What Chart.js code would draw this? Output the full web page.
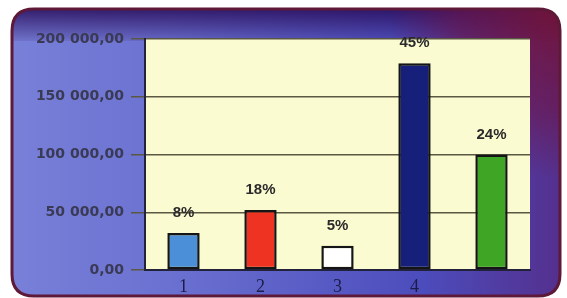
<!DOCTYPE html>
<html>
<head>
<meta charset="utf-8">
<script src="https://cdn.jsdelivr.net/npm/chart.js@4"></script>
<style>
  html, body { margin: 0; padding: 0; background: #fff; }
  #wrap { width: 567px; height: 298px; }
</style>
</head>
<body>
<div id="wrap"><canvas id="chart" width="567" height="298"></canvas></div>
<script>
// Data (the fifth category label is not visible in the source)
const categories = ['1', '2', '3', '4', ''];
const values = [32000, 52000, 21000, 179000, 100000];
const percentLabels = ['8%', '18%', '5%', '45%', '24%'];
const barColors = ['#4a8fd8', '#ee3322', '#ffffff', '#16207a', '#3ea624'];
const yTicks = [0, 50000, 100000, 150000, 200000];

function formatValue(v) {
    const s = Math.round(v).toString().replace(/\B(?=(\d{3})+(?!\d))/g, ' ');
    return s + ',00';
}

function roundRect(ctx, x, y, w, h, r) {
    ctx.beginPath();
    ctx.moveTo(x + r, y);
    ctx.lineTo(x + w - r, y);
    ctx.quadraticCurveTo(x + w, y, x + w, y + r);
    ctx.lineTo(x + w, y + h - r);
    ctx.quadraticCurveTo(x + w, y + h, x + w - r, y + h);
    ctx.lineTo(x + r, y + h);
    ctx.quadraticCurveTo(x, y + h, x, y + h - r);
    ctx.lineTo(x, y + r);
    ctx.quadraticCurveTo(x, y, x + r, y);
    ctx.closePath();
}

// Panel background + yellow plot area
const panelPlugin = {
    id: 'panel',
    beforeDraw(chart) {
        const ctx = chart.ctx;
        const a = chart.chartArea;
        ctx.save();
        ctx.fillStyle = '#ffffff';
        ctx.fillRect(0, 0, chart.width, chart.height);

        const px = 12, py = 9, pw = 548, ph = 287;
        roundRect(ctx, px, py, pw, ph, 22);
        const g = ctx.createLinearGradient(px, 0, px + pw, 0);
        g.addColorStop(0, '#7880d8');
        g.addColorStop(0.3, '#6a70d0');
        g.addColorStop(0.75, '#4c4cbc');
        g.addColorStop(1, '#54308e');
        ctx.fillStyle = g;
        ctx.fill();

        ctx.save();
        ctx.clip();
        const top = ctx.createLinearGradient(0, py, 0, a.top + 2);
        top.addColorStop(0, 'rgba(40,12,90,0.85)');
        top.addColorStop(1, 'rgba(40,12,90,0.1)');
        ctx.fillStyle = top;
        ctx.fillRect(px, py, pw, a.top + 2 - py);
        const rg = ctx.createRadialGradient(px + pw, py, 0, px + pw, py, 170);
        rg.addColorStop(0, 'rgba(115,20,55,0.95)');
        rg.addColorStop(0.6, 'rgba(110,20,70,0.6)');
        rg.addColorStop(1, 'rgba(110,20,70,0)');
        ctx.fillStyle = rg;
        ctx.fillRect(px + pw - 200, py, 200, 200);
        ctx.restore();

        roundRect(ctx, px, py, pw, ph, 22);
        ctx.lineWidth = 3;
        ctx.strokeStyle = '#5e1838';
        ctx.stroke();

        ctx.fillStyle = '#fbfbd2';
        ctx.fillRect(a.left, a.top, a.right - a.left, a.bottom - a.top);
        ctx.restore();
    }
};

// Percent labels above the bars
const percentPlugin = {
    id: 'percentLabels',
    afterDatasetsDraw(chart) {
        const ctx = chart.ctx;
        const meta = chart.getDatasetMeta(0);
        ctx.save();
        ctx.font = 'bold 15px "Liberation Sans", Arial, sans-serif';
        ctx.fillStyle = '#2a2a2a';
        ctx.textAlign = 'center';
        ctx.textBaseline = 'alphabetic';
        meta.data.forEach((bar, i) => {
            ctx.fillText(percentLabels[i], bar.x, bar.y - 16);
        });
        ctx.restore();
    }
};

new Chart(document.getElementById('chart').getContext('2d'), {
    type: 'bar',
    data: {
        labels: categories,
        datasets: [{
            data: values,
            backgroundColor: barColors,
            borderColor: '#151515',
            borderWidth: 2.5,
            borderSkipped: false,
            barPercentage: 0.42,
            categoryPercentage: 1
        }]
    },
    options: {
        responsive: false,
        animation: false,
        layout: { padding: { left: 0, top: 39, right: 37, bottom: 0 } },
        plugins: { legend: { display: false }, tooltip: { enabled: false } },
        scales: {
            x: {
                afterFit(scale) { scale.height = 28; },
                grid: { display: false, drawTicks: false },
                border: { color: '#22223a', width: 2 },
                ticks: {
                    color: '#1c1c48',
                    padding: 6,
                    font: { family: '"Liberation Serif", serif', size: 18 }
                }
            },
            y: {
                min: 0,
                max: 200000,
                afterFit(scale) { scale.width = 145; },
                afterBuildTicks(scale) { scale.ticks = yTicks.map(v => ({ value: v })); },
                grid: { color: '#5a5842', lineWidth: 1.5, tickLength: 14 },
                border: { color: '#22223a', width: 2 },
                ticks: {
                    color: '#3a3a55',
                    padding: 7,
                    font: { family: '"DejaVu Sans", sans-serif', size: 14, weight: 'bold' },
                    callback: v => formatValue(v)
                }
            }
        }
    },
    plugins: [panelPlugin, percentPlugin]
});
</script>
</body>
</html>
